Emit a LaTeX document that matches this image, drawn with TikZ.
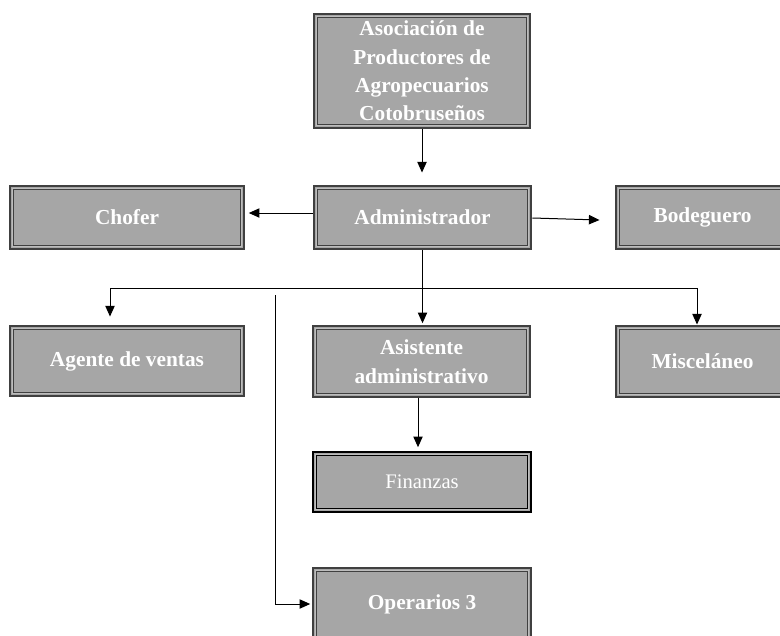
\documentclass[tikz,border=0pt]{standalone}
\usepackage{fontspec}
\setmainfont{Liberation Serif}
\usetikzlibrary{arrows.meta,calc}
\definecolor{boxgray}{HTML}{A6A6A6}
\definecolor{dg}{HTML}{404040}
\definecolor{gapgray}{HTML}{BDBDBD}
\begin{document}
\begin{tikzpicture}[x=0.75pt,y=-0.75pt,
  orgbox/.style={draw=#1, line width=2.2pt, fill=boxgray, text=white,
    font=\fontsize{16}{21.3}\selectfont\bfseries, align=center, inner sep=0pt,
    path picture={
      \draw[gapgray,line width=0.8pt] ([xshift=1.7pt,yshift=-1.7pt]path picture bounding box.north west) rectangle ([xshift=-1.7pt,yshift=1.7pt]path picture bounding box.south east);
      \draw[#1,line width=0.9pt] ([xshift=2.6pt,yshift=-2.6pt]path picture bounding box.north west) rectangle ([xshift=-2.6pt,yshift=2.6pt]path picture bounding box.south east);
    }},
  orgbox/.default=dg,
  conn/.style={line width=0.75pt, black},
  arr/.style={conn, -{Triangle[length=8pt,width=7pt]}}]
\useasboundingbox (0,0) rectangle (780,635);
\clip (0,0) rectangle (780,635);

\node[orgbox, minimum width=162pt, minimum height=85.5pt] (top) at (422,71)
  {Asociación de\\Productores de\\Agropecuarios\\Cotobruseños};
\node[orgbox, minimum width=162.75pt, minimum height=47.25pt] (admin) at (422.5,217.5) {Administrador};
\node[orgbox, minimum width=175.5pt, minimum height=47.25pt] (chofer) at (127,217.5) {Chofer};
\node[orgbox, minimum width=129.75pt, minimum height=47.25pt] (bode) at (702.5,217.5) {Bodeguero};
\node[orgbox, minimum width=175.5pt, minimum height=52.5pt] (agente) at (127,361) {Agente de ventas};
\node[orgbox, minimum width=162.75pt, minimum height=53.25pt] (asist) at (421.5,361.5) {Asistente\\administrativo};
\node[orgbox, minimum width=129.75pt, minimum height=53.25pt] (misc) at (702.5,361.5) {Misceláneo};
\node[orgbox=black, minimum width=163.5pt, minimum height=45pt,
  font=\fontsize{15.5}{20}\selectfont\mdseries] (fin) at (422,482) {Finanzas};
\node[orgbox, minimum width=163.5pt, minimum height=54pt] (oper) at (422,604) {Operarios 3};

\draw[arr, shorten >=9pt] (top.south) -- (top.south |- admin.north);
\draw[arr, shorten >=2.5pt] ($(admin.west)+(0,-4.5)$) -- ($(chofer.east)+(0,-4.5)$);
\draw[arr] ($(admin.east)+(0,0.5)$) -- ($(bode.west)+(-15,2.5)$);

\coordinate (busL) at (110,288);
\coordinate (busR) at (697,288);
\draw[conn] (admin.south) -- (admin.south |- busL);
\draw[conn] (busL) -- (busR);
\draw[arr, shorten >=6pt] (busL) -- (busL |- agente.north);
\draw[arr, shorten >=1pt] (admin.south |- busL) -- (admin.south |- asist.north);
\draw[arr, shorten >=0pt] (busR) -- (busR |- misc.north);

\coordinate (opstart) at (275,295);
\draw[arr, shorten >=1pt] (opstart) |- (oper.west);

\draw[arr, shorten >=2.5pt] ($(asist.south)+(-3.5,0)$) -- ($(fin.north)+(-4,0)$);
\end{tikzpicture}
\end{document}
